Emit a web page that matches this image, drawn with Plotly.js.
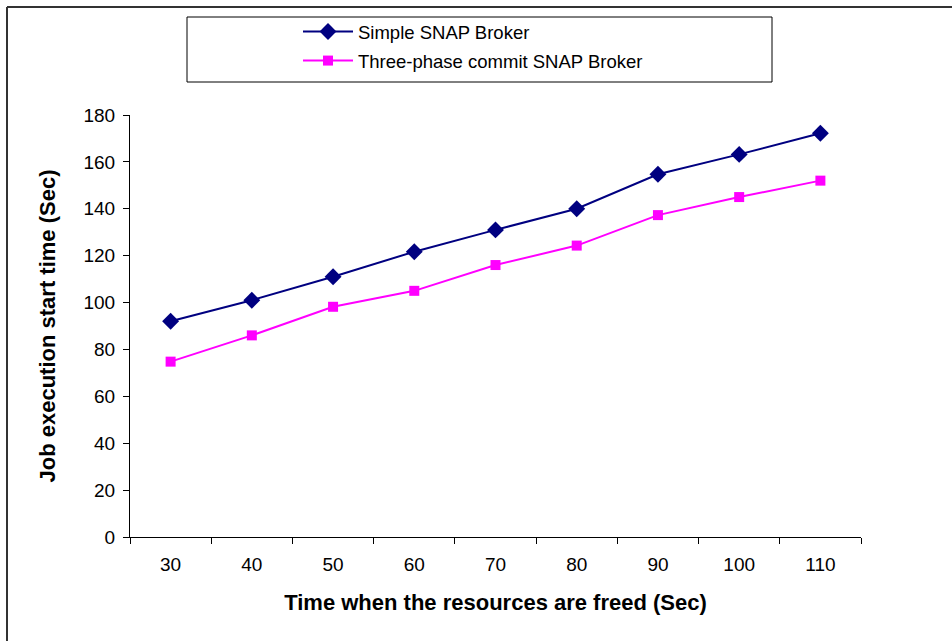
<!DOCTYPE html>
<html>
<head>
<meta charset="utf-8">
<script src="https://cdn.plot.ly/plotly-3.0.1.min.js"></script>
<style>
html,body{margin:0;padding:0;background:#fff;}
#chart{width:952px;height:641px;}
</style>
</head>
<body>
<div id="chart"></div>
<script>
const categories = ["30", "40", "50", "60", "70", "80", "90", "100", "110"];
const simpleBroker = [92, 101, 111, 121.7, 131, 140, 154.7, 163.2, 172.2];
const threePhaseBroker = [74.8, 86, 98.2, 105, 116, 124.3, 137.3, 145, 152];
const seriesNames = ["Simple SNAP Broker", "Three-phase commit SNAP Broker"];
const yTicks = [0, 20, 40, 60, 80, 100, 120, 140, 160, 180];

const FONT = "Liberation Sans, Arial, sans-serif";

// plot area geometry (px) -> paper helpers
const L = 130, R = 861, T = 115, B = 537, W = 952, H = 641;
const px = v => (v - L) / (R - L);
const py = v => (B - v) / (B - T);

const traces = [
  {
    x: categories, y: simpleBroker, name: seriesNames[0],
    type: "scatter", mode: "lines+markers",
    line: {color: "#000080", width: 2},
    marker: {symbol: "diamond", size: 13, color: "#000080"},
    legendgroup: "a"
  },
  {
    x: categories, y: threePhaseBroker, name: seriesNames[1],
    type: "scatter", mode: "lines+markers",
    line: {color: "#FF00FF", width: 2},
    marker: {symbol: "square", size: 10, color: "#FF00FF"},
    legendgroup: "b"
  }
];

const layout = {
  width: W, height: H,
  margin: {l: L, r: W - R, t: T, b: H - B, pad: 0},
  paper_bgcolor: "#fff", plot_bgcolor: "#fff",
  font: {family: FONT, size: 18, color: "#000"},
  showlegend: true,
  legend: {
    x: px(298), y: py(13), xanchor: "left", yanchor: "top",
    bgcolor: "rgba(0,0,0,0)", borderwidth: 0,
    font: {family: FONT, size: 18.5, color: "#000"},
    tracegroupgap: 2, itemwidth: 50
  },
  xaxis: {
    type: "category",
    range: [-0.5, 8.5],
    tickson: "boundaries",
    ticks: "outside", ticklen: 6, tickwidth: 1, tickcolor: "#000",
    showline: true, linecolor: "#000", linewidth: 1,
    showgrid: false, zeroline: false,
    tickfont: {family: FONT, size: 19, color: "#000"},
    ticklabelstandoff: 10,
    title: {text: "<b>Time when the resources are freed (Sec)</b>", font: {family: FONT, size: 22, color: "#000"}, standoff: 20},
    fixedrange: true
  },
  yaxis: {
    range: [0, 180],
    tickvals: yTicks,
    ticks: "outside", ticklen: 6, tickwidth: 1, tickcolor: "#000",
    showline: true, linecolor: "#000", linewidth: 1,
    showgrid: false, zeroline: false,
    tickfont: {family: FONT, size: 19, color: "#000"},
    ticklabelstandoff: 4,
    title: {text: "<b>Job execution start time (Sec)</b>", font: {family: FONT, size: 22, color: "#000"}, standoff: 21},
    fixedrange: true
  },
  shapes: [
    // legend box
    {type: "rect", xref: "paper", yref: "paper",
     x0: px(187), x1: px(772), y0: py(82), y1: py(17),
     line: {color: "#000", width: 1}, fillcolor: "rgba(0,0,0,0)"},
    // outer frame (left and top edges)
    {type: "line", xref: "paper", yref: "paper",
     x0: px(7), x1: px(7), y0: py(H + 5), y1: py(7),
     line: {color: "#333", width: 2}},
    {type: "line", xref: "paper", yref: "paper",
     x0: px(7), x1: px(W + 5), y0: py(7), y1: py(7),
     line: {color: "#333", width: 2}}
  ]
};

Plotly.newPlot("chart", traces, layout, {displayModeBar: false, staticPlot: true});
</script>
</body>
</html>
